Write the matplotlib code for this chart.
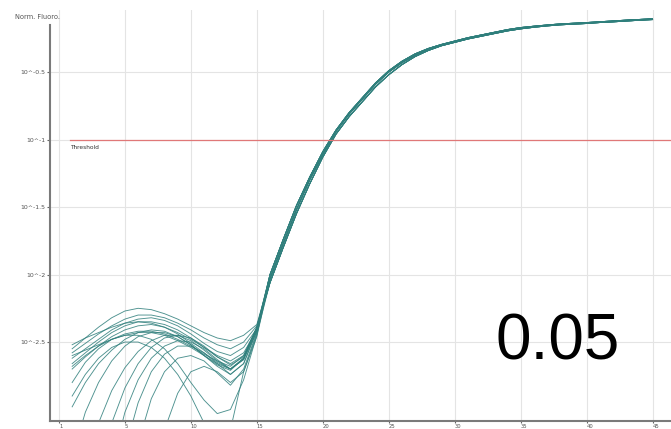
import numpy as np
import matplotlib.pyplot as plt

# cycles, with early (noisy) part per curve and shared amplification part
early_cycles = list(range(1, 16))
late_cycles = list(range(16, 46))

# log10 of normalised fluorescence, cycles 1..15
early_curves = [
    [-2.55, -2.47, -2.39, -2.32, -2.27, -2.25, -2.26, -2.29, -2.33, -2.38, -2.43, -2.47, -2.49, -2.45, -2.37],
    [-2.58, -2.51, -2.44, -2.38, -2.33, -2.30, -2.30, -2.32, -2.36, -2.41, -2.47, -2.52, -2.55, -2.50, -2.38],
    [-2.62, -2.55, -2.48, -2.41, -2.36, -2.33, -2.32, -2.34, -2.38, -2.44, -2.51, -2.57, -2.60, -2.54, -2.40],
    [-2.52, -2.47, -2.43, -2.39, -2.36, -2.35, -2.36, -2.39, -2.43, -2.48, -2.54, -2.60, -2.64, -2.58, -2.41],
    [-2.66, -2.58, -2.50, -2.43, -2.38, -2.35, -2.35, -2.37, -2.41, -2.47, -2.54, -2.61, -2.66, -2.60, -2.40],
    [-2.70, -2.61, -2.53, -2.46, -2.41, -2.38, -2.37, -2.39, -2.44, -2.51, -2.58, -2.65, -2.70, -2.63, -2.42],
    [-2.98, -2.80, -2.66, -2.56, -2.48, -2.43, -2.41, -2.42, -2.46, -2.52, -2.60, -2.68, -2.74, -2.66, -2.41],
    [-3.35, -3.02, -2.80, -2.64, -2.53, -2.46, -2.43, -2.43, -2.46, -2.52, -2.60, -2.67, -2.71, -2.62, -2.39],
    [-3.90, -3.50, -3.10, -2.86, -2.69, -2.57, -2.49, -2.45, -2.45, -2.49, -2.56, -2.64, -2.70, -2.63, -2.40],
    [-4.30, -3.90, -3.50, -3.10, -2.84, -2.66, -2.54, -2.47, -2.45, -2.47, -2.53, -2.61, -2.67, -2.61, -2.39],
    [-4.60, -4.20, -3.80, -3.40, -3.02, -2.78, -2.62, -2.53, -2.49, -2.50, -2.55, -2.63, -2.70, -2.62, -2.40],
    [-4.90, -4.50, -4.10, -3.70, -3.30, -2.95, -2.72, -2.59, -2.53, -2.53, -2.58, -2.66, -2.74, -2.66, -2.42],
    [-5.20, -4.80, -4.40, -4.00, -3.60, -3.25, -2.92, -2.72, -2.62, -2.60, -2.64, -2.73, -2.82, -2.70, -2.43],
    [-5.50, -5.10, -4.70, -4.30, -3.90, -3.50, -3.15, -3.15, -2.88, -2.72, -2.68, -2.72, -2.80, -2.72, -2.44],
    [-2.80, -2.65, -2.55, -2.48, -2.45, -2.45, -2.48, -2.55, -2.66, -2.80, -2.93, -3.03, -3.00, -2.78, -2.45],
    [-2.90, -2.74, -2.62, -2.54, -2.50, -2.50, -2.54, -2.62, -2.74, -2.90, -3.10, -3.30, -3.15, -2.72, -2.46],
    [-2.60, -2.56, -2.52, -2.48, -2.45, -2.43, -2.43, -2.45, -2.49, -2.54, -2.60, -2.66, -2.70, -2.62, -2.40],
    [-2.68, -2.60, -2.53, -2.48, -2.44, -2.42, -2.42, -2.44, -2.48, -2.53, -2.59, -2.64, -2.68, -2.60, -2.39],
]

# shared amplification phase, cycles 16..45 (three slightly different traces)
late_a = [-2.03, -1.77, -1.52, -1.30, -1.11, -0.94, -0.81, -0.70, -0.59, -0.50,
          -0.43, -0.375, -0.33, -0.30, -0.275, -0.25, -0.23, -0.21, -0.19, -0.175,
          -0.163, -0.154, -0.147, -0.141, -0.136, -0.13, -0.124, -0.118, -0.113, -0.108]
late_b = [-2.06, -1.80, -1.55, -1.33, -1.13, -0.96, -0.83, -0.72, -0.61, -0.52,
          -0.445, -0.385, -0.34, -0.305, -0.28, -0.255, -0.235, -0.215, -0.195, -0.18,
          -0.168, -0.158, -0.15, -0.145, -0.14, -0.133, -0.128, -0.122, -0.116, -0.111]
late_c = [-2.00, -1.74, -1.49, -1.28, -1.09, -0.93, -0.80, -0.69, -0.58, -0.49,
          -0.42, -0.365, -0.325, -0.295, -0.27, -0.245, -0.225, -0.205, -0.185, -0.17,
          -0.16, -0.151, -0.143, -0.138, -0.133, -0.127, -0.121, -0.115, -0.11, -0.105]
late_traces = [late_a, late_b, late_c]

threshold = 0.1
x_ticks = [0, 5, 10, 15, 20, 25, 30, 35, 40, 45]
x_tick_labels = ["1", "5", "10", "15", "20", "25", "30", "35", "40", "45"]
y_ticks_log = [-2.5, -2.0, -1.5, -1.0, -0.5]
y_tick_labels = ["10^-2.5", "10^-2", "10^-1.5", "10^-1", "10^-0.5"]
big_label = "0.05"


fig = plt.figure(figsize=(6.71, 4.29), dpi=100)
ax = fig.add_axes([50 / 671, 8 / 429, 621 / 671, 411 / 429])

cycles = early_cycles + late_cycles
for i, early in enumerate(early_curves):
    vals = np.array(early + late_traces[i % 3])
    ax.plot(cycles, np.power(10.0, vals), color="#2f7f7c", lw=0.65, alpha=0.85)

ax.set_yscale("log")
ax.set_xlim(-0.68, 46.4)
ax.set_ylim(10 ** -3.085, 10 ** -0.04)

ax.axhline(threshold, xmin=(0.83 + 0.68) / 47.08, xmax=1, color="#e07878", lw=0.9)
ax.text(0.85, threshold * 0.915, "Threshold", fontsize=4.2, color="#333333",
        ha="left", va="top")

ax.set_xticks(x_ticks)
ax.set_xticklabels(x_tick_labels, ha="left")
ax.set_yticks([10 ** v for v in y_ticks_log])
ax.set_yticklabels(y_tick_labels)
ax.minorticks_off()
ax.tick_params(axis="x", length=1.5, width=0.8, color="#666666", labelsize=3.8,
               pad=0.3, labelcolor="#555555")
ax.tick_params(axis="y", length=2, width=0.8, color="#666666", labelsize=4.5,
               pad=1, labelcolor="#555555")

ax.grid(True, color="#e4e4e4", lw=0.8)
ax.set_axisbelow(True)
for side in ["top", "right"]:
    ax.spines[side].set_visible(False)
for side in ["left", "bottom"]:
    ax.spines[side].set_color("#7a7a7a")
    ax.spines[side].set_linewidth(1.5)
ax.spines["left"].set_bounds(10 ** -3.085, 10 ** -0.152)

fig.text(15 / 671, 1 - 17 / 429, "Norm. Fluoro.", fontsize=4.8, color="#555555",
         ha="left", va="center")
fig.text(496 / 671, (429 - 359) / 429, big_label, fontsize=46,
         family="Liberation Sans", ha="left", va="baseline", color="black")

fig.savefig("out.png", dpi=100)
